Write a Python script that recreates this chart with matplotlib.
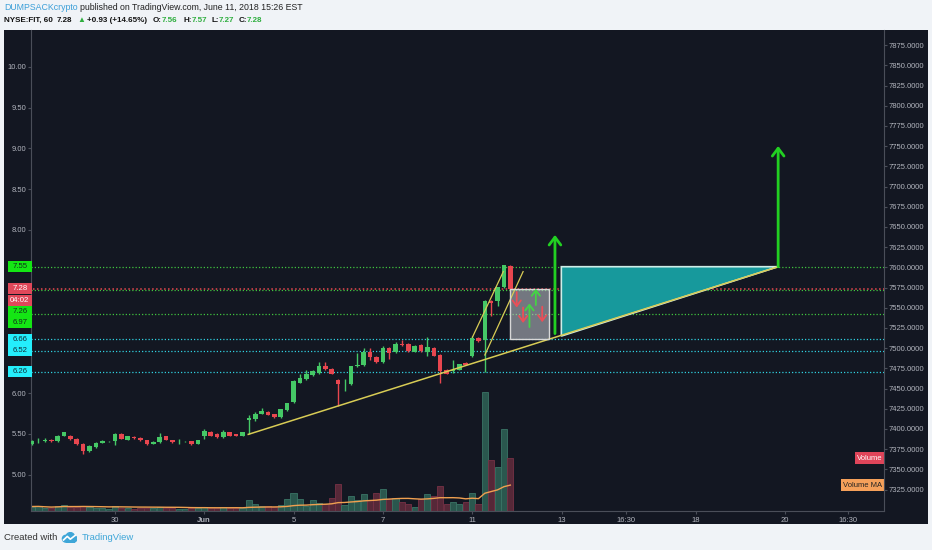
import numpy as np
import pandas as pd
import matplotlib
matplotlib.use('Agg')
import matplotlib.pyplot as plt
from matplotlib.patches import Rectangle, Polygon, Circle
from matplotlib.transforms import blended_transform_factory

# NYSE:FIT hourly candles, bar 0 = May 25, last bar = Jun 11 15:30
opens = [5.38, 5.41, 5.42, 5.43, 5.41, 5.48, 5.48, 5.44, 5.38, 5.29,
         5.34, 5.39, 5.41, 5.42, 5.50, 5.43, 5.46, 5.45, 5.43, 5.38,
         5.40, 5.47, 5.43, 5.41, 5.41, 5.41, 5.38, 5.48, 5.53, 5.50,
         5.46, 5.52, 5.50, 5.48, 5.67, 5.68, 5.75, 5.77, 5.74, 5.71,
         5.79, 5.89, 6.13, 6.17, 6.22, 6.25, 6.33, 6.30, 6.16, 6.12,
         6.11, 6.33, 6.34, 6.50, 6.44, 6.38, 6.55, 6.50, 6.60, 6.60,
         6.51, 6.59, 6.51, 6.55, 6.47, 6.28, 6.27, 6.29, 6.37, 6.45,
         6.68, 6.65, 7.13, 7.13, 7.30, 7.56]
highs = [5.43, 5.45, 5.45, 5.44, 5.49, 5.52, 5.49, 5.45, 5.39, 5.36,
         5.40, 5.43, 5.42, 5.51, 5.51, 5.47, 5.47, 5.46, 5.43, 5.41,
         5.51, 5.48, 5.43, 5.44, 5.42, 5.41, 5.43, 5.56, 5.54, 5.51,
         5.55, 5.53, 5.50, 5.52, 5.73, 5.77, 5.82, 5.78, 5.75, 5.80,
         5.88, 6.16, 6.23, 6.29, 6.28, 6.38, 6.38, 6.31, 6.17, 6.17,
         6.33, 6.49, 6.55, 6.55, 6.45, 6.58, 6.56, 6.63, 6.65, 6.61,
         6.59, 6.60, 6.69, 6.56, 6.48, 6.30, 6.41, 6.36, 6.38, 6.70,
         6.69, 7.14, 7.14, 7.30, 7.57, 7.57]
lows = [5.37, 5.39, 5.40, 5.40, 5.40, 5.47, 5.43, 5.37, 5.25, 5.28,
        5.33, 5.39, 5.40, 5.36, 5.44, 5.43, 5.44, 5.42, 5.37, 5.38,
        5.39, 5.43, 5.39, 5.38, 5.40, 5.37, 5.38, 5.44, 5.47, 5.45,
        5.45, 5.48, 5.47, 5.48, 5.50, 5.66, 5.74, 5.73, 5.70, 5.70,
        5.78, 5.88, 6.12, 6.16, 6.21, 6.24, 6.29, 6.24, 5.84, 6.03,
        6.10, 6.32, 6.33, 6.41, 6.37, 6.37, 6.42, 6.49, 6.58, 6.51,
        6.50, 6.51, 6.46, 6.45, 6.12, 6.23, 6.25, 6.28, 6.34, 6.44,
        6.63, 6.26, 6.94, 7.07, 7.29, 7.27]
closes = [5.42, 5.42, 5.43, 5.41, 5.48, 5.52, 5.44, 5.38, 5.29, 5.35,
          5.39, 5.41, 5.41, 5.50, 5.44, 5.47, 5.45, 5.43, 5.38, 5.40,
          5.46, 5.43, 5.40, 5.41, 5.41, 5.38, 5.43, 5.54, 5.48, 5.46,
          5.52, 5.48, 5.48, 5.52, 5.70, 5.75, 5.78, 5.73, 5.71, 5.80,
          5.88, 6.15, 6.18, 6.24, 6.27, 6.33, 6.30, 6.24, 6.11, 6.13,
          6.33, 6.35, 6.50, 6.44, 6.38, 6.55, 6.49, 6.60, 6.59, 6.52,
          6.58, 6.52, 6.56, 6.46, 6.27, 6.24, 6.28, 6.36, 6.35, 6.68,
          6.64, 7.13, 7.10, 7.30, 7.57, 7.28]
# volume, thousands of shares
volumes = [450, 470, 350, 300, 500, 630, 400, 450, 530, 400,
           350, 300, 250, 470, 350, 300, 250, 300, 350, 300,
           400, 300, 300, 250, 250, 300, 300, 450, 350, 350,
           400, 300, 300, 350, 1130, 670, 530, 470, 400, 600,
           1200, 1830, 1170, 470, 1070, 800, 730, 1300, 2670, 630,
           1470, 1130, 1670, 1070, 1800, 2170, 1170, 1300, 870, 670,
           400, 1170, 1670, 1500, 2470, 670, 870, 730, 930, 1800,
           670, 11900, 5100, 4400, 8200, 5300]

green_levels = [7.55, 7.26, 6.97]
cyan_levels = [6.66, 6.52, 6.26]
last_price = 7.28
countdown = '04:02'

left_ticks = [5.0, 5.5, 6.0, 6.5, 7.0, 7.5, 8.0, 8.5, 9.0, 9.5, 10.0]
hidden_ticks = [6.5, 7.0, 7.5]   # covered by the level labels

xtick_pos = [13, 27, 41, 55, 69, 83.1, 93.2, 104.1, 118.1, 128.0]
xtick_labels = ['30', 'Jun', '5', '7', '11', '13', '16:30', '18', '20', '16:30']

# drawings
trend_x = [33.9, 117.0]
trend_y = [5.495, 7.55]
chan_a_x = [69.05, 73.9]
chan_a_y = [6.685, 7.49]
chan_b_x = [71.0, 77.0]
chan_b_y = [6.468, 7.49]
tri_x = [83.0, 117.0, 83.0]
tri_y = [7.55, 7.55, 6.70]
box_x = [75.0, 81.0]
box_y = [6.668, 7.277]
big_arrows = [(82.0, 6.73, 7.94), (117.0, 7.55, 9.03)]
small_up = [(78.0, 6.81, 7.10), (79.0, 7.08, 7.28)]
small_down = [(76.0, 7.24, 7.05), (77.0, 7.05, 6.86), (80.0, 7.06, 6.87)]

BG = '#131722'
AXC = '#4a4e59'
TXT = '#b2b5be'
GREEN = '#45c866'
RED = '#e8464f'

plt.rcParams['font.family'] = ['Liberation Sans', 'DejaVu Sans']

W, H = 932, 550
fig = plt.figure(figsize=(W / 100, H / 100), dpi=100, facecolor='#f0f3f7')

# dark chart panel
fig.add_artist(Rectangle((4 / W, 1 - 524 / H), 924 / W, 494 / H,
                         transform=fig.transFigure, facecolor=BG,
                         edgecolor='none', zorder=-5))

rect = [31 / W, 1 - 511 / H, 853 / W, 481 / H]
axv = fig.add_axes(rect)
ax = fig.add_axes(rect, facecolor='none')
ax2 = ax.twinx()

xlim = (-0.17, 133.6)
idx = np.arange(len(opens))
o = np.array(opens); c = np.array(closes)
hi = np.array(highs); lo = np.array(lows)
up = c >= o

# volume pane
vol = np.array(volumes)
ma = pd.Series(volumes).rolling(20, min_periods=1).mean()
axv.bar(idx, vol, width=0.96, color=np.where(up, '#2a574e', '#562838'),
        edgecolor=np.where(up, '#3a7566', '#763246'), linewidth=0.6)
axv.plot(idx, ma, color='#f0a050', lw=1)
axv.set_xlim(*xlim)
axv.set_ylim(0, 48100)
axv.axis('off')
bt = blended_transform_factory(axv.transAxes, axv.transData)
axv.text(0.998, vol[-1], 'Volume', transform=bt, ha='right', va='center',
         fontsize=5.5, color='white',
         bbox=dict(boxstyle='square,pad=0.3', fc='#e0455a', ec='none'))
axv.text(0.998, ma.iloc[-1], 'Volume MA', transform=bt, ha='right', va='center',
         fontsize=5.5, color='#222222',
         bbox=dict(boxstyle='square,pad=0.3', fc='#f5a05a', ec='none'))

# level lines
for p in green_levels:
    ax.axhline(p, color='#3fc43f', ls=(0, (1, 1.6)), lw=0.9)
ax.axhline(last_price, color=RED, ls=(1.3, (1, 1.6)), lw=1.1)
for p in cyan_levels:
    ax.axhline(p, color='#2fd0e0', ls=(0, (1, 1.6)), lw=0.9)

# candles
cols = np.where(up, GREEN, RED)
ax.vlines(idx, lo, hi, colors=cols, lw=1, zorder=3)
ax.bar(idx, np.maximum(np.abs(c - o), 0.008), bottom=np.minimum(o, c),
       width=0.72, color=cols, zorder=4)

# drawings
ax.add_patch(Polygon(list(zip(tri_x, tri_y)), closed=True, fc='#17999c',
                     ec='#cfeee8', lw=1.2, zorder=5))
ax.plot(trend_x, trend_y, color='#d8cc55', lw=1.1, zorder=6)
ax.plot(chan_a_x, chan_a_y, color='#d8cc55', lw=0.9, zorder=6)
ax.plot(chan_b_x, chan_b_y, color='#d8cc55', lw=0.9, zorder=6)
ax.add_patch(Rectangle((box_x[0], box_y[0]), box_x[1] - box_x[0],
                       box_y[1] - box_y[0], fc='#c4c8cf', alpha=0.55,
                       ec='none', zorder=5))
ax.add_patch(Rectangle((box_x[0], box_y[0]), box_x[1] - box_x[0],
                       box_y[1] - box_y[0], fc='none', ec='#d8d8d8',
                       lw=1, zorder=6))

for x, y0, y1 in big_arrows:
    ax.annotate('', xy=(x, y1), xytext=(x, y0), zorder=7,
                arrowprops=dict(arrowstyle='->,head_length=0.4,head_width=0.3',
                                color='#22d022', lw=2, shrinkA=0, shrinkB=0,
                                mutation_scale=14))
for x, y0, y1 in small_up:
    ax.annotate('', xy=(x, y1), xytext=(x, y0), zorder=7,
                arrowprops=dict(arrowstyle='->,head_length=0.4,head_width=0.3',
                                color='#44d444', lw=1.3, shrinkA=0, shrinkB=0,
                                mutation_scale=10))
for x, y0, y1 in small_down:
    ax.annotate('', xy=(x, y1), xytext=(x, y0), zorder=7,
                arrowprops=dict(arrowstyle='->,head_length=0.4,head_width=0.3',
                                color='#ea4f58', lw=1.3, shrinkA=0, shrinkB=0,
                                mutation_scale=10))

# axes styling
ax.set_xlim(*xlim)
ax.set_ylim(4.556, 10.451)
ax.set_yticks(left_ticks)
ax.set_yticklabels(['' if v in hidden_ticks else '%.2f' % v for v in left_ticks])
ax.set_xticks(xtick_pos)
ax.set_xticklabels(xtick_labels)
for t in ax.get_xticklabels():
    if t.get_text() == 'Jun':
        t.set_fontweight('bold')
ax.tick_params(axis='both', colors=AXC, labelcolor=TXT, labelsize=5.5,
               length=2.5, width=0.8)
ax.tick_params(axis='y', pad=1)
ax.tick_params(axis='x', pad=1.5)
for s in ['top', 'right']:
    ax.spines[s].set_visible(False)
for s in ['left', 'bottom']:
    ax.spines[s].set_color(AXC)

ax2.set_ylim(7298.4, 7893.7)
rt = np.arange(7325, 7876, 25)
ax2.set_yticks(rt)
ax2.set_yticklabels(['%.4f' % v for v in rt])
ax2.tick_params(axis='y', colors=AXC, labelcolor=TXT, labelsize=5.5,
                length=2.5, width=0.8, pad=1)
for s in ['top', 'left', 'bottom']:
    ax2.spines[s].set_visible(False)
ax2.spines['right'].set_color(AXC)

# price labels on the left scale
def price_box(price, text, fc, tc, dy=0):
    y = ax.transData.transform((0, price))[1] - dy
    fig.add_artist(Rectangle((8 / W, (y - 5.5) / H), 23.5 / W, 11 / H,
                             transform=fig.transFigure, fc=fc, ec='none',
                             zorder=5))
    fig.text(19.8 / W, y / H, text, ha='center', va='center', fontsize=5.6,
             color=tc, zorder=6)

price_box(7.55, '7.55', '#14e614', '#10301a')
price_box(last_price, '%.2f' % last_price, '#e0485a', 'white')
price_box(last_price, countdown, '#e0485a', 'white', dy=11.5)
price_box(7.26, '7.26', '#14e614', '#10301a', dy=21)
price_box(6.97, '6.97', '#14e614', '#10301a', dy=8.3)
for p in cyan_levels:
    price_box(p, '%.2f' % p, '#24eefc', '#10303a')

# header
def ftext(x, y, s, **kw):
    fig.text(x / W, 1 - y / H, s, va='center', ha='left', **kw)

ftext(4, 7.5, 'DUMPSACKcrypto', fontsize=6.3, color='#3b9fd8')
ftext(80, 7.5, 'published on TradingView.com, June 11, 2018 15:26 EST',
      fontsize=6.3, color='#222222')
hdr = [(4, 'NYSE:FIT, 60', '#111111'), (57, '7.28', '#111111'),
       (77, '\u25b2', '#2fae3f'), (87, '+0.93 (+14.65%)', '#111111'),
       (152.7, 'O:', '#111111'), (162, '7.56', '#2fae3f'),
       (183, 'H:', '#111111'), (192, '7.57', '#2fae3f'),
       (212, 'L:', '#111111'), (219, '7.27', '#2fae3f'),
       (239, 'C:', '#111111'), (247, '7.28', '#2fae3f')]
for x, s, col in hdr:
    ftext(x, 20.3, s, fontsize=5.8, color=col, fontweight='bold')

# footer
ftext(4, 538, 'Created with', fontsize=6.8, color='#333333')
ftext(82, 538, 'TradingView', fontsize=6.8, color='#3ea6d8')
logo = fig.add_axes([61 / W, 1 - 543 / H, 16 / W, 11 / H])
logo.set_xlim(0, 16)
logo.set_ylim(0, 11)
logo.axis('off')
for cx, cy, r in [(4.8, 4.3, 3.4), (9.3, 6.2, 4.2), (12.7, 4.2, 3.2)]:
    logo.add_patch(Circle((cx, cy), r, color='#3ea6d8'))
logo.add_patch(Rectangle((4.8, 1.0), 8, 3.4, color='#3ea6d8'))
logo.plot([2.5, 6.3, 9.3, 14.2], [3.0, 6.6, 3.8, 7.6], color='white', lw=1.2)

fig.savefig('out.png', dpi=100, facecolor=fig.get_facecolor())
